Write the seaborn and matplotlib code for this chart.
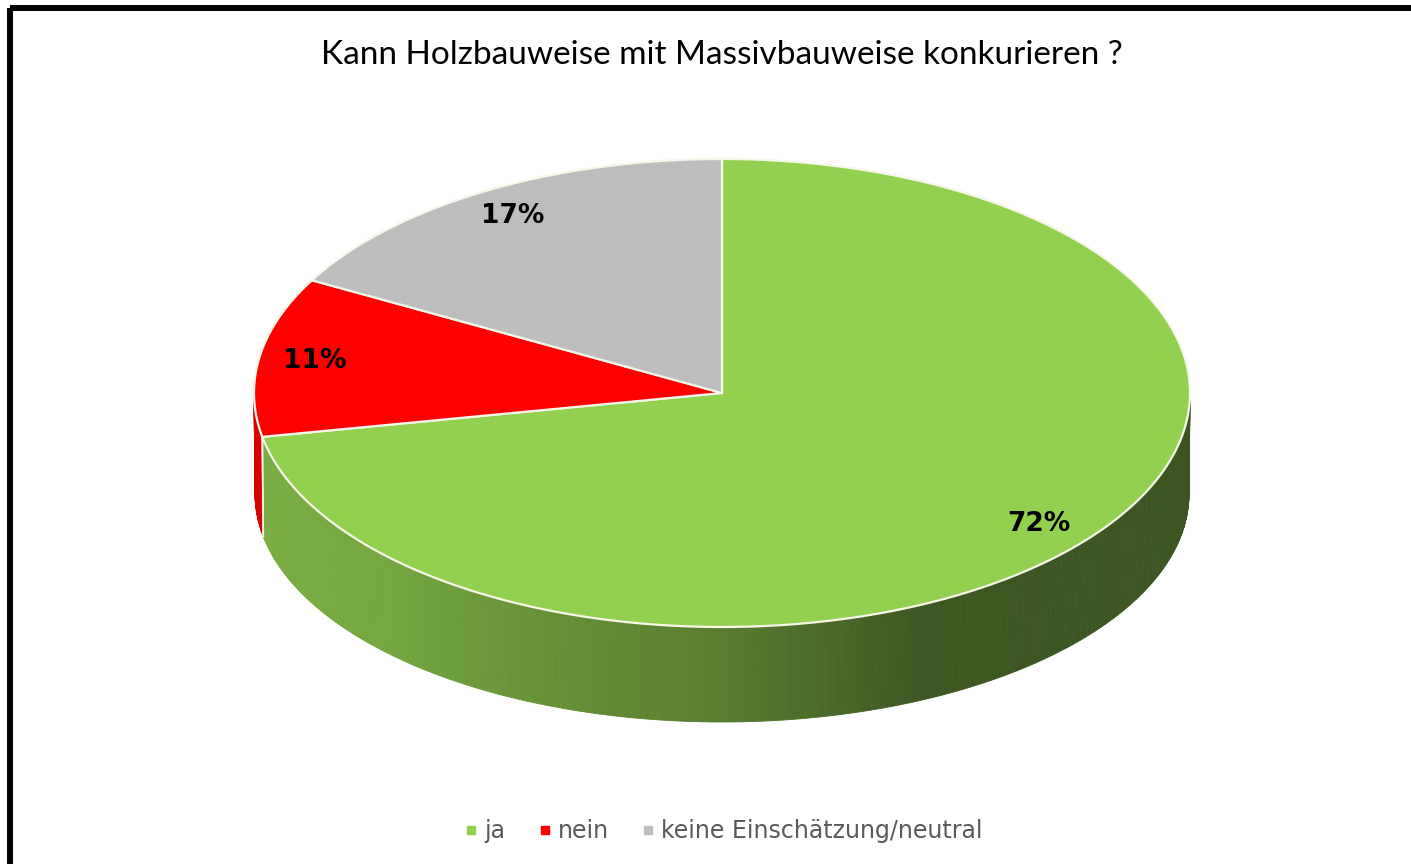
import numpy as np
import matplotlib
matplotlib.use("Agg")
import matplotlib.pyplot as plt
import seaborn as sns
from matplotlib.patches import Polygon, Rectangle
from matplotlib.lines import Line2D
import matplotlib.colors as mcolors

# data
categories = ["ja", "nein", "keine Einschätzung/neutral"]
shares = [72, 11, 17]
pct_labels = ["72%", "11%", "17%"]
colors = ["#92d050", "#ff0000", "#bdbdbd"]
title = "Kann Holzbauweise mit Massivbauweise konkurieren ?"

sns.set_theme(style="white")
plt.rcParams["font.family"] = ["DejaVu Sans"]
palette = sns.color_palette(colors)

W, H = 1411, 864
fig = plt.figure(figsize=(W / 100, H / 100), dpi=100)
ax = fig.add_axes([0, 0, 1, 1])
ax.set_xlim(0, W)
ax.set_ylim(H, 0)
ax.axis("off")

# 3d pie geometry (top rim and a slightly flatter bottom rim for perspective)
cx, cy, rx, ry = 722, 393, 468, 234
bcy, brx, bry = 494, 467, 228


def top_pt(t):
    t = np.radians(t)
    return cx + rx * np.cos(t), cy - ry * np.sin(t)


def bot_pt(t):
    t = np.radians(t)
    return cx + brx * np.cos(t), bcy - bry * np.sin(t)


def shade(t):
    # darker towards the right, like the excel lighting
    t = t % 360
    return np.interp(t, [180, 225, 270, 295, 360], [0.85, 0.80, 0.60, 0.42, 0.40])


fracs = np.array(shares) / sum(shares)
cum = np.cumsum(fracs)
starts = 90 - 360 * (cum - fracs)
ends = 90 - 360 * cum

# side walls (only the front half is visible)
for s, e, c in zip(starts, ends, palette):
    lo, hi = max(e, -180), min(s, 0)
    if lo >= hi:
        continue
    edges = np.linspace(lo, hi, int((hi - lo) / 0.5) + 2)
    for a, b in zip(edges[:-1], edges[1:]):
        tx, ty = top_pt(np.array([a, b]))
        bx, by = bot_pt(np.array([b, a]))
        col = np.array(mcolors.to_rgb(c)) * shade((a + b) / 2)
        ax.add_patch(Polygon(np.column_stack([np.r_[tx, bx], np.r_[ty, by]]),
                             closed=True, facecolor=col, edgecolor=col, lw=0.6))
    # thin light line where two slices meet on the wall
    for t in (lo, hi):
        if -180 < t < 0:
            x0, y0 = top_pt(t)
            x1, y1 = bot_pt(t)
            ax.plot([x0, x1], [y0, y1], color="#f4f4e8", lw=1.2)

# top face
for s, e, c in zip(starts, ends, palette):
    tt = np.linspace(s, e, 200)
    px, py = top_pt(tt)
    pts = np.column_stack([np.r_[cx, px], np.r_[cy, py]])
    ax.add_patch(Polygon(pts, closed=True, facecolor=c, edgecolor="#f6f6ea", lw=1.6))

# percentage labels at the middle of each slice
for s, e, lab in zip(starts, ends, pct_labels):
    mid = np.radians((s + e) / 2)
    lx = cx + 0.88 * rx * np.cos(mid)
    ly = cy - 0.88 * ry * np.sin(mid)
    ax.text(lx, ly, lab, ha="center", va="center", fontsize=19,
            fontweight="bold", color="black")

ax.text(722, 64, title, ha="center", va="baseline", fontsize=24,
        family=["Lato", "DejaVu Sans"], color="black")

# frame of the original screenshot
ax.add_patch(Rectangle((10, 7.5), 1500, 900, fill=False, edgecolor="black",
                       lw=4.3, clip_on=False))

handles = [Line2D([], [], marker="s", linestyle="", markersize=5.8, color=c)
           for c in palette]
fig.legend(handles, categories, loc="center", bbox_to_anchor=(724 / W, 1 - 831 / H),
           ncol=3, frameon=False, fontsize=17, labelcolor="#595959",
           handlelength=0.5, handletextpad=0.3, columnspacing=1.42)

fig.savefig("out.png", dpi=100)
